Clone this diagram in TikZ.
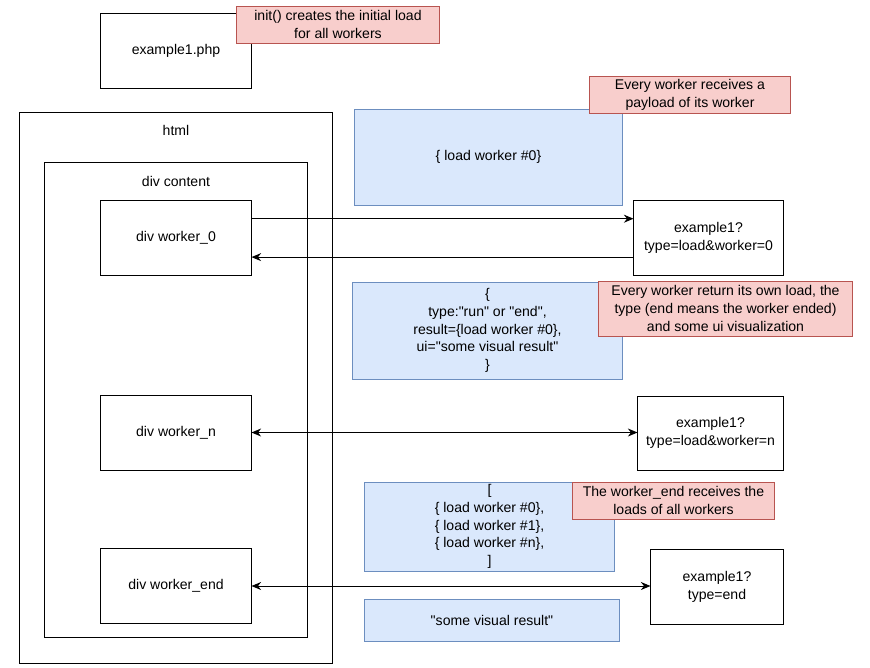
\documentclass[tikz,border=0pt]{standalone}
\usepackage{fontspec}
\setmainfont{Liberation Sans}[Ligatures=TeXOff]
\usepackage{xcolor}
\usepackage{tikz}
\usetikzlibrary{arrows.meta, positioning, calc}
\definecolor{databg}{HTML}{DAE8FC}
\definecolor{dataline}{HTML}{6C8EBF}
\definecolor{notebg}{HTML}{F8CECC}
\definecolor{noteline}{HTML}{B85450}
\tikzset{
  pagebox/.style={
    draw, line width=0.7pt, align=center, fill=white,
    font=\fontsize{10}{12.6}\selectfont,
    minimum width=3.75cm, minimum height=1.875cm, inner sep=0pt
  },
  framebox/.style={
    draw, line width=0.7pt, inner sep=0pt,
    font=\fontsize{10}{12.6}\selectfont
  },
  databox/.style={
    draw=dataline, fill=databg, line width=0.7pt, align=center,
    font=\fontsize{10}{12.6}\selectfont, inner sep=0pt
  },
  notebox/.style={
    draw=noteline, fill=notebg, line width=0.7pt, align=center,
    font=\fontsize{10}{12.6}\selectfont, inner sep=0pt
  },
  callarrow/.style={
    -{Stealth[length=2.4mm, width=2mm]}, line width=0.7pt
  },
  bothcall/.style={
    {Stealth[length=2.4mm, width=2mm]}-{Stealth[length=2.4mm, width=2mm]}, line width=0.7pt
  },
}
\begin{document}
\begin{tikzpicture}[x=0.025cm, y=-0.025cm]
  \useasboundingbox (0,0) rectangle (870,667);

  % === Page and containers ===
  \node[pagebox] (php) at (176, 50.5) {example1.php};

  \node[framebox, minimum width=7.8cm, minimum height=13.75cm,
    label={[anchor=north, yshift=-0.2cm, font=\fontsize{10}{12.6}\selectfont]north:html}] (html) at (176, 388) {};
  \node[framebox, minimum width=6.55cm, minimum height=11.85cm,
    label={[anchor=north, yshift=-0.22cm, font=\fontsize{10}{12.6}\selectfont]north:div content}] (content) at (176, 400) {};

  \node[pagebox] (worker0) at (176, 237.5) {div worker\_0};
  \node[pagebox] (workern) at (176, 432.5) {div worker\_n};
  \node[pagebox] (workerend) at (176, 586) {div worker\_end};

  % === Requests ===
  \node[pagebox, minimum width=3.725cm] (url0) at (708.5, 237.5) {example1?\\type=load\&worker=0};
  \node[pagebox, minimum width=3.625cm, minimum height=1.85cm] (urln) at (710.5, 433) {example1?\\type=load\&worker=n};
  \node[pagebox, minimum width=3.3cm] (urlend) at (717, 586.5) {example1?\\type=end};

  % === Payloads ===
  \node[databox, minimum width=6.675cm, minimum height=2.4cm] (load0) at (488.5, 157) {\{ load worker \#0\}};
  \node[databox, minimum width=6.725cm, minimum height=2.425cm] (reply) at (487.5, 330.5)
    {\{\\type:"run" or "end",\\result=\{load worker \#0\},\\ui="some visual result"\\\}};
  \node[databox, minimum width=6.225cm, minimum height=2.225cm] (allloads) at (489.5, 526.5)
    {[\\\{ load worker \#0\},\\\{ load worker \#1\},\\\{ load worker \#n\},\\]};
  \node[databox, minimum width=6.35cm, minimum height=1.05cm] (visual) at (492, 620) {"some visual result"};

  % === Notes ===
  \node[notebox, minimum width=5.05cm, minimum height=0.925cm] (noteinit) at (338, 24.5)
    {init() creates the initial load\\for all workers};
  \node[notebox, minimum width=5cm, minimum height=0.925cm] (notepayload) at (690, 94.5)
    {Every worker receives a\\payload of its worker};
  \node[notebox, minimum width=6.325cm, minimum height=1.375cm] (notereturn) at (725.5, 308.5)
    {Every worker return its own load, the\\type (end means the worker ended)\\and some ui visualization};
  \node[notebox, minimum width=5.025cm, minimum height=0.925cm] (noteend) at (673.5, 500.5)
    {The worker\_end receives the\\loads of all workers};

  % === Arrows ===
  \draw[callarrow] ([yshift=0.47cm]worker0.east) -- ([yshift=0.47cm]url0.west);
  \draw[callarrow] ([yshift=-0.49cm]url0.west) -- ([yshift=-0.49cm]worker0.east);
  \draw[bothcall] (workern.east) -- (workern.east -| urln.west);
  \draw[bothcall] (workerend.east) -- (workerend.east -| urlend.west);

\end{tikzpicture}
\end{document}
